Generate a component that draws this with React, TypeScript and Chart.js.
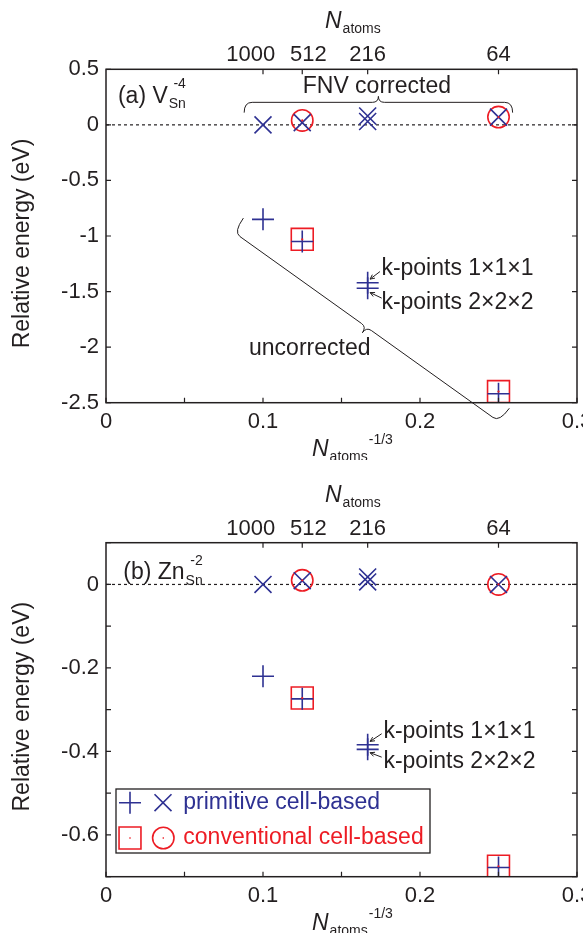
import React, { useEffect, useRef } from 'react';
import { Chart, registerables } from 'chart.js';
import { drawPoint } from 'chart.js/helpers';

Chart.register(...registerables);

const FONT = '"Liberation Sans", Arial, Helvetica, sans-serif';
const BLUE = '#2e3192';
const RED = '#ed1c24';
const INK = '#231f20';

// ---- data ----
const nAtomsTicks = [1000, 512, 216, 64];
const nAtomsTickLabels = ['1000    ', '  512', '216', '64'];
const primN = [1000, 512, 216, 216, 64];
const convN = [512, 64];
const xTickLabels = ['0', '0.1', '0.2', '0.3'];

// (a) V_Sn^-4
const vsnPrimCorrected = [0.0, 0.02, 0.08, 0.03, 0.07];
const vsnPrimUncorrected = [-0.85, -1.05, -1.42, -1.47, -2.42];
const vsnConvCorrected = [0.04, 0.07];
const vsnConvUncorrected = [-1.03, -2.4];

// (b) Zn_Sn^-2
const znPrimCorrected = [0.0, 0.009, 0.018, 0.006, 0.0];
const znPrimUncorrected = [-0.22, -0.274, -0.384, -0.395, -0.678];
const znConvCorrected = [0.01, 0.0];
const znConvUncorrected = [-0.272, -0.675];

const toX = (n: number) => Math.pow(n, -1 / 3);
const pts = (ns: number[], ys: number[]) => ns.map((n, i) => ({ x: toX(n), y: ys[i] }));

type Note = {
  texts: { text: string; x: number; y: number }[];
  braces: { from: number[]; to: number[]; depth: number; tip: number; side: number }[];
  arrows: { from: number[]; to: number[] }[];
};

const vsnNotes: Note = {
  texts: [
    { text: 'FNV corrected', x: 0.1253, y: 0.29 },
    { text: 'uncorrected', x: 0.0911, y: -2.07 },
    { text: 'k-points 1×1×1', x: 0.1754, y: -1.35 },
    { text: 'k-points 2×2×2', x: 0.1754, y: -1.659 },
  ],
  braces: [
    { from: [0.088, 0.11], to: [0.259, 0.11], depth: 10.3, tip: 6, side: -1 },
    { from: [0.0875, -0.839], to: [0.2569, -2.55], depth: 17, tip: 7, side: 1 },
  ],
  arrows: [
    { from: [0.1745, -1.32], to: [0.1682, -1.388] },
    { from: [0.1756, -1.559], to: [0.1682, -1.509] },
  ],
};

const znNotes: Note = {
  texts: [
    { text: 'k-points 1×1×1', x: 0.1767, y: -0.367 },
    { text: 'k-points 2×2×2', x: 0.1767, y: -0.439 },
  ],
  braces: [],
  arrows: [
    { from: [0.1756, -0.3576], to: [0.1682, -0.376] },
    { from: [0.1756, -0.4137], to: [0.1682, -0.403] },
  ],
};

type Panel = {
  height: number;
  areaTop: number;
  areaBottom: number;
  yMin: number;
  yMax: number;
  yStep: number;
  yEvenOnly: boolean;
  prim: number[];
  primUnc: number[];
  conv: number[];
  convUnc: number[];
  label: { main: string; sub: string; sup: string; x: number; y: number };
  yTitleShift: number;
  notes: Note;
  legend: boolean;
};

const panels: Panel[] = [
  {
    height: 460, areaTop: 69.3, areaBottom: 402.7,
    yMin: -2.5, yMax: 0.5, yStep: 0.5, yEvenOnly: false,
    prim: vsnPrimCorrected, primUnc: vsnPrimUncorrected, conv: vsnConvCorrected, convUnc: vsnConvUncorrected,
    label: { main: '(a) V', sub: 'Sn', sup: '-4', x: 0.0076, y: 0.2 },
    yTitleShift: 7.5, notes: vsnNotes, legend: false,
  },
  {
    height: 473, areaTop: 82.7, areaBottom: 416.7,
    yMin: -0.7, yMax: 0.1, yStep: 0.1, yEvenOnly: true,
    prim: znPrimCorrected, primUnc: znPrimUncorrected, conv: znConvCorrected, convUnc: znConvUncorrected,
    label: { main: '(b) Zn', sub: 'Sn', sup: '-2', x: 0.011, y: 0.0127 },
    yTitleShift: -3, notes: znNotes, legend: true,
  },
];

function drawBrace(ctx: CanvasRenderingContext2D, x1: number, y1: number, x2: number, y2: number, h1: number, h2: number, side: number) {
  const dx = x2 - x1, dy = y2 - y1;
  const L = Math.hypot(dx, dy);
  const ux = dx / L, uy = dy / L;
  const nx = side > 0 ? -uy : uy;
  const ny = side > 0 ? ux : -ux;
  const q = (t: number, s: number) => [x1 + ux * t + nx * s, y1 + uy * t + ny * s];
  const r = 8, r2 = 6;
  ctx.beginPath();
  let p = q(0, 0);
  ctx.moveTo(p[0], p[1]);
  let c = q(0, h1); p = q(r, h1); ctx.quadraticCurveTo(c[0], c[1], p[0], p[1]);
  p = q(L / 2 - r2, h1); ctx.lineTo(p[0], p[1]);
  c = q(L / 2, h1); p = q(L / 2, h1 + h2); ctx.quadraticCurveTo(c[0], c[1], p[0], p[1]);
  c = q(L / 2, h1); p = q(L / 2 + r2, h1); ctx.quadraticCurveTo(c[0], c[1], p[0], p[1]);
  p = q(L - r, h1); ctx.lineTo(p[0], p[1]);
  c = q(L, h1); p = q(L, 0); ctx.quadraticCurveTo(c[0], c[1], p[0], p[1]);
  ctx.stroke();
}

function drawArrow(ctx: CanvasRenderingContext2D, x1: number, y1: number, x2: number, y2: number) {
  ctx.beginPath();
  ctx.moveTo(x1, y1);
  ctx.lineTo(x2, y2);
  const a = Math.atan2(y2 - y1, x2 - x1);
  const len = 5;
  for (const s of [-0.45, 0.45]) {
    ctx.moveTo(x2, y2);
    ctx.lineTo(x2 - len * Math.cos(a + s), y2 - len * Math.sin(a + s));
  }
  ctx.stroke();
}

function makePlugin(panel: Panel) {
  return {
    id: 'panelDecor',
    afterDraw(chart: any) {
      const ctx: CanvasRenderingContext2D = chart.ctx;
      const area = chart.chartArea;
      const xs = chart.scales.x, ys = chart.scales.y, x2s = chart.scales.x2;
      const X = (v: number) => xs.getPixelForValue(v);
      const Y = (v: number) => ys.getPixelForValue(v);
      ctx.save();
      ctx.strokeStyle = INK;
      ctx.fillStyle = INK;
      // frame
      ctx.lineWidth = 1.5;
      ctx.strokeRect(area.left, area.top, area.right - area.left, area.bottom - area.top);
      // inward ticks
      ctx.lineWidth = 1.2;
      const tl = 5;
      ctx.beginPath();
      xs.ticks.forEach((t: any) => {
        const px = X(t.value);
        ctx.moveTo(px, area.bottom); ctx.lineTo(px, area.bottom - tl);
      });
      x2s.ticks.forEach((t: any) => {
        const px = x2s.getPixelForValue(t.value);
        ctx.moveTo(px, area.top); ctx.lineTo(px, area.top + tl);
      });
      ys.ticks.forEach((t: any) => {
        const py = Y(t.value);
        ctx.moveTo(area.left, py); ctx.lineTo(area.left + tl, py);
        ctx.moveTo(area.right, py); ctx.lineTo(area.right - tl, py);
      });
      ctx.stroke();

      // axis titles
      ctx.textAlign = 'left';
      ctx.textBaseline = 'alphabetic';
      // bottom: N_atoms^-1/3
      const bx = 312, by = area.bottom + 53.3;
      ctx.font = `italic 23px ${FONT}`;
      ctx.fillText('N', bx, by);
      const nW = ctx.measureText('N').width;
      ctx.font = `14px ${FONT}`;
      ctx.fillText('atoms', bx + nW + 1, by + 5);
      const aW = ctx.measureText('atoms').width;
      ctx.fillText('-1/3', bx + nW + aW + 2, by - 12);
      // top: N_atoms
      const tx = 325, ty = area.top - 41;
      ctx.font = `italic 23px ${FONT}`;
      ctx.fillText('N', tx, ty);
      ctx.font = `14px ${FONT}`;
      ctx.fillText('atoms', tx + nW + 1, ty + 5);
      // y title
      ctx.save();
      ctx.translate(23, (area.top + area.bottom) / 2 + panel.yTitleShift);
      ctx.rotate(-Math.PI / 2);
      ctx.textAlign = 'center';
      ctx.textBaseline = 'middle';
      ctx.font = `23px ${FONT}`;
      ctx.fillText('Relative energy (eV)', 0, 0);
      ctx.restore();

      // panel label
      const lx = X(panel.label.x), ly = Y(panel.label.y);
      ctx.font = `23px ${FONT}`;
      ctx.fillText(panel.label.main, lx, ly);
      const mW = ctx.measureText(panel.label.main).width;
      ctx.font = `14px ${FONT}`;
      ctx.fillText(panel.label.sub, lx + mW + 1, ly + 5.5);
      const sW = ctx.measureText(panel.label.sub).width;
      ctx.textAlign = 'right';
      ctx.fillText(panel.label.sup, lx + mW + 1 + sW, ly - 14.5);
      ctx.textAlign = 'left';

      // annotations
      ctx.font = `23px ${FONT}`;
      panel.notes.texts.forEach((t) => ctx.fillText(t.text, X(t.x), Y(t.y)));
      ctx.lineWidth = 1;
      panel.notes.braces.forEach((b) =>
        drawBrace(ctx, X(b.from[0]), Y(b.from[1]), X(b.to[0]), Y(b.to[1]), b.depth, b.tip, b.side)
      );
      panel.notes.arrows.forEach((a) => drawArrow(ctx, X(a.from[0]), Y(a.from[1]), X(a.to[0]), Y(a.to[1])));

      // legend
      if (panel.legend) {
        const left = area.left + 10, top = area.bottom - 87.7, w = 314, h = 64;
        ctx.lineWidth = 1.3;
        ctx.strokeStyle = INK;
        ctx.strokeRect(left, top, w, h);
        const r1 = top + 13.7, r2 = top + 49;
        ctx.lineWidth = 1.6;
        ctx.strokeStyle = BLUE;
        ctx.fillStyle = 'rgba(0,0,0,0)';
        drawPoint(ctx, { pointStyle: 'cross', radius: 11, rotation: 0, borderWidth: 1.6 } as any, left + 14, r1);
        drawPoint(ctx, { pointStyle: 'crossRot', radius: 12, rotation: 0, borderWidth: 1.6 } as any, left + 47, r1);
        ctx.strokeStyle = RED;
        drawPoint(ctx, { pointStyle: 'rect', radius: 15.5, rotation: 0, borderWidth: 1.6 } as any, left + 14, r2);
        drawPoint(ctx, { pointStyle: 'circle', radius: 10.7, rotation: 0, borderWidth: 1.6 } as any, left + 47.3, r2);
        ctx.fillStyle = RED;
        ctx.fillRect(left + 13.3, r2 - 0.7, 1.4, 1.4);
        ctx.fillRect(left + 46.6, r2 - 0.7, 1.4, 1.4);
        ctx.font = `23px ${FONT}`;
        ctx.fillStyle = BLUE;
        ctx.fillText('primitive cell-based', left + 67.3, top + 20.3);
        ctx.fillStyle = RED;
        ctx.fillText('conventional cell-based', left + 67.3, top + 55.3);
      }
      ctx.restore();
    },
  };
}

function buildChart(canvas: HTMLCanvasElement, panel: Panel) {
  const topH = panel.areaTop;
  const bottomH = panel.height - panel.areaBottom;
  const tickFont = { family: FONT, size: 22 };
  const convAll = [...pts(convN, panel.conv), ...pts(convN, panel.convUnc)];
  return new Chart(canvas, {
    type: 'scatter',
    data: {
      datasets: [
        {
          label: 'conventional centres',
          data: convAll,
          pointStyle: 'circle',
          pointRadius: 1.1,
          pointBorderWidth: 0,
          backgroundColor: RED,
          borderColor: RED,
        },
        {
          label: 'primitive corrected',
          data: pts(primN, panel.prim),
          pointStyle: 'crossRot',
          pointRadius: 12,
          pointBorderWidth: 1.6,
          borderColor: BLUE,
          backgroundColor: BLUE,
        },
        {
          label: 'primitive uncorrected',
          data: pts(primN, panel.primUnc),
          pointStyle: 'cross',
          pointRadius: 11,
          pointBorderWidth: 1.6,
          borderColor: BLUE,
          backgroundColor: BLUE,
        },
        {
          label: 'conventional corrected',
          data: pts(convN, panel.conv),
          pointStyle: 'circle',
          pointRadius: 10.7,
          pointBorderWidth: 1.6,
          borderColor: RED,
          backgroundColor: 'rgba(0,0,0,0)',
        },
        {
          label: 'conventional uncorrected',
          data: pts(convN, panel.convUnc),
          pointStyle: 'rect',
          pointRadius: 15.5,
          pointBorderWidth: 1.6,
          borderColor: RED,
          backgroundColor: 'rgba(0,0,0,0)',
        },
        {
          label: 'zero',
          data: [{ x: 0, y: 0 }, { x: 0.3, y: 0 }],
          showLine: true,
          pointRadius: 0,
          borderColor: INK,
          borderWidth: 1.2,
          borderDash: [3, 3],
        },
      ],
    },
    options: {
      animation: false,
      responsive: false,
      devicePixelRatio: 1,
      events: [],
      layout: { padding: { left: 0, right: 6, top: 0, bottom: 0 }, autoPadding: false },
      plugins: { legend: { display: false }, tooltip: { enabled: false } },
      scales: {
        x: {
          type: 'linear',
          position: 'bottom',
          min: 0,
          max: 0.3,
          grid: { display: false, drawTicks: false },
          border: { display: false },
          ticks: {
            stepSize: 0.05,
            autoSkip: false,
            maxRotation: 0,
            padding: 5.6,
            color: INK,
            font: tickFont,
            callback: (v: any) => {
              const k = Math.round(Number(v) * 100);
              if (k % 10 !== 0) return '';
              return xTickLabels[k / 10] ?? '';
            },
          },
          afterFit: (s: any) => {
            s.height = bottomH;
            s.paddingLeft = 0;
            s.paddingRight = 0;
          },
        },
        x2: {
          type: 'linear',
          position: 'top',
          min: 0,
          max: 0.3,
          grid: { display: false, drawTicks: false },
          border: { display: false },
          afterBuildTicks: (s: any) => {
            s.ticks = nAtomsTicks.map((n) => ({ value: toX(n) }));
          },
          ticks: {
            autoSkip: false,
            maxRotation: 0,
            padding: 1,
            color: INK,
            font: tickFont,
            callback: (_v: any, i: number) => nAtomsTickLabels[i],
          },
          afterFit: (s: any) => {
            s.height = topH;
            s.paddingLeft = 0;
            s.paddingRight = 0;
          },
        },
        y: {
          type: 'linear',
          position: 'left',
          min: panel.yMin,
          max: panel.yMax,
          grid: { display: false, drawTicks: false },
          border: { display: false },
          ticks: {
            stepSize: panel.yStep,
            autoSkip: false,
            padding: 7,
            color: INK,
            font: tickFont,
            callback: (v: any) => {
              const t = Math.round(Number(v) * 10);
              if (panel.yEvenOnly && t % 2 !== 0) return '';
              return String(t / 10);
            },
          },
          afterFit: (s: any) => {
            s.width = 106;
            s.paddingTop = 0;
            s.paddingBottom = 0;
          },
        },
      },
    } as any,
    plugins: [makePlugin(panel)],
  });
}

export default function App() {
  const topRef = useRef<HTMLCanvasElement>(null);
  const botRef = useRef<HTMLCanvasElement>(null);

  useEffect(() => {
    const charts: Chart[] = [];
    if (topRef.current) charts.push(buildChart(topRef.current, panels[0]));
    if (botRef.current) charts.push(buildChart(botRef.current, panels[1]));
    return () => charts.forEach((c) => c.destroy());
  }, []);

  return (
    <div style={{ position: 'fixed', left: 0, top: 0, width: 583, height: 933, background: '#fff' }}>
      <canvas
        ref={topRef}
        width={583}
        height={panels[0].height}
        style={{ position: 'absolute', left: 0, top: 0, width: 583, height: panels[0].height }}
      />
      <canvas
        ref={botRef}
        width={583}
        height={panels[1].height}
        style={{ position: 'absolute', left: 0, top: panels[0].height, width: 583, height: panels[1].height }}
      />
    </div>
  );
}
